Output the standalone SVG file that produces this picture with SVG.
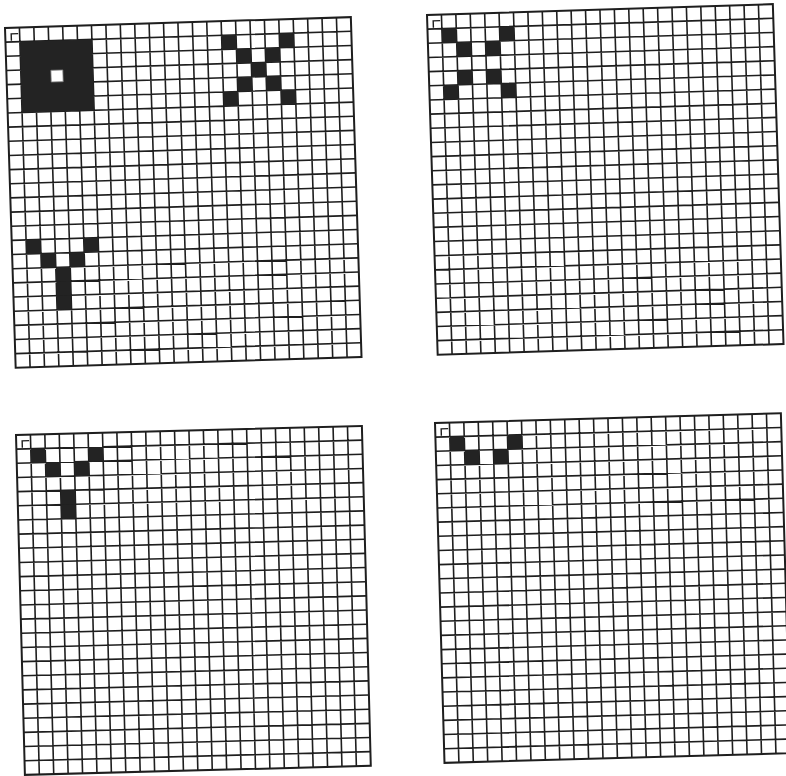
<svg xmlns="http://www.w3.org/2000/svg" xmlns:xlink="http://www.w3.org/1999/xlink" width="786" height="776" viewBox="0 0 786 776">
<style>
.ln{fill:none;stroke:#1e1e1e;stroke-width:1.6}
.bd{fill:none;stroke:#1e1e1e;stroke-width:2}
.on{fill:#232323}
.mk{fill:none;stroke:#1e1e1e;stroke-width:1.4}
</style>
<defs>
<path id="lines" class="ln" d="M0 14.17H346M0 28.33H346M0 42.5H346M0 56.67H346M0 70.83H346M0 85H346M0 99.17H346M0 113.33H346M0 127.5H346M0 141.67H346M0 155.83H346M0 170H346M0 184.17H346M0 198.33H346M0 212.5H346M0 226.67H346M0 240.83H346M0 255H346M0 269.17H346M0 283.33H346M0 297.5H346M0 311.67H346M0 325.83H346M14.42 0V340M28.83 0V340M43.25 0V340M57.67 0V340M72.08 0V340M86.5 0V340M100.92 0V340M115.33 0V340M129.75 0V340M144.17 0V340M158.58 0V340M173 0V340M187.42 0V340M201.83 0V340M216.25 0V340M230.67 0V340M245.08 0V340M259.5 0V340M273.92 0V340M288.33 0V340M302.75 0V340M317.17 0V340M331.58 0V340"/>
<g id="grid">
<rect x="0" y="0" width="346" height="340" fill="#fff"/>
<use xlink:href="#lines" href="#lines"/>
<rect class="bd" x="0" y="0" width="346" height="340"/>
<path class="mk" d="M6 13V6H13"/>
</g>
<rect id="c" class="on" x="0" y="0" width="14.42" height="14.17"/>
</defs>
<rect width="786" height="776" fill="#fff"/>

<g id="grid1" transform="translate(5,28) rotate(-1.8)">
<use xlink:href="#grid" href="#grid"/>
<rect class="on" x="14.42" y="14.17" width="72.08" height="70.83"/>
<rect x="44.5" y="43.7" width="12" height="11.8" fill="#fff" stroke="#777" stroke-width="0.8"/>
<use xlink:href="#c" href="#c" x="216.25" y="14.17"/>
<use xlink:href="#c" href="#c" x="273.92" y="14.17"/>
<use xlink:href="#c" href="#c" x="230.67" y="28.33"/>
<use xlink:href="#c" href="#c" x="259.5" y="28.33"/>
<use xlink:href="#c" href="#c" x="245.08" y="42.5"/>
<use xlink:href="#c" href="#c" x="230.67" y="56.67"/>
<use xlink:href="#c" href="#c" x="259.5" y="56.67"/>
<use xlink:href="#c" href="#c" x="216.25" y="70.83"/>
<use xlink:href="#c" href="#c" x="273.92" y="70.83"/>
<use xlink:href="#c" href="#c" x="14.42" y="212.5"/>
<use xlink:href="#c" href="#c" x="72.08" y="212.5"/>
<use xlink:href="#c" href="#c" x="28.83" y="226.67"/>
<use xlink:href="#c" href="#c" x="57.67" y="226.67"/>
<use xlink:href="#c" href="#c" x="43.25" y="240.83"/>
<use xlink:href="#c" href="#c" x="43.25" y="255"/>
<use xlink:href="#c" href="#c" x="43.25" y="269.17"/>
</g>

<g id="grid2" transform="translate(427,15) rotate(-1.8)">
<use xlink:href="#grid" href="#grid"/>
<use xlink:href="#c" href="#c" x="14.42" y="14.17"/>
<use xlink:href="#c" href="#c" x="72.08" y="14.17"/>
<use xlink:href="#c" href="#c" x="28.83" y="28.33"/>
<use xlink:href="#c" href="#c" x="57.67" y="28.33"/>
<use xlink:href="#c" href="#c" x="28.83" y="56.67"/>
<use xlink:href="#c" href="#c" x="57.67" y="56.67"/>
<use xlink:href="#c" href="#c" x="14.42" y="70.83"/>
<use xlink:href="#c" href="#c" x="72.08" y="70.83"/>
</g>

<g id="grid3" transform="translate(16,435) rotate(-1.5)">
<use xlink:href="#grid" href="#grid"/>
<use xlink:href="#c" href="#c" x="14.42" y="14.17"/>
<use xlink:href="#c" href="#c" x="72.08" y="14.17"/>
<use xlink:href="#c" href="#c" x="28.83" y="28.33"/>
<use xlink:href="#c" href="#c" x="57.67" y="28.33"/>
<use xlink:href="#c" href="#c" x="43.25" y="56.67"/>
<use xlink:href="#c" href="#c" x="43.25" y="70.83"/>
</g>

<g id="grid4" transform="translate(435,423) rotate(-1.6)">
<use xlink:href="#grid" href="#grid"/>
<use xlink:href="#c" href="#c" x="14.42" y="14.17"/>
<use xlink:href="#c" href="#c" x="72.08" y="14.17"/>
<use xlink:href="#c" href="#c" x="28.83" y="28.33"/>
<use xlink:href="#c" href="#c" x="57.67" y="28.33"/>
</g>
</svg>
